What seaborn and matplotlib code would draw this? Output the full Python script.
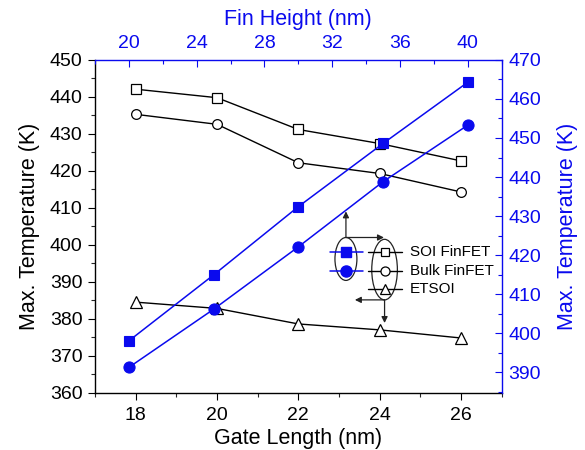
import matplotlib
matplotlib.use("Agg")
import matplotlib.pyplot as plt
import seaborn as sns
from matplotlib.patches import Ellipse
from matplotlib.ticker import MultipleLocator

# Gate-length sweep (bottom / left axes)
gate_length = [18, 20, 22, 24, 26]
soi_vs_gate = [442.1, 439.8, 431.2, 427.4, 422.7]
bulk_vs_gate = [435.3, 432.6, 422.2, 419.3, 414.3]
etsoi_vs_gate = [384.5, 382.8, 378.6, 377.0, 374.8]

# Fin-height sweep (top / right axes)
fin_height = [20, 25, 30, 35, 40]
soi_vs_fin = [398.0, 414.9, 432.4, 448.6, 464.3]
bulk_vs_fin = [391.2, 406.1, 422.1, 438.8, 453.3]

gate_ticks = [18, 20, 22, 24, 26]
fin_ticks = [20, 24, 28, 32, 36, 40]
left_ticks = [360, 370, 380, 390, 400, 410, 420, 430, 440, 450]
right_ticks = [390, 400, 410, 420, 430, 440, 450, 460, 470]

legend_labels = ["SOI FinFET", "Bulk FinFET", "ETSOI"]

sns.set_theme(style="white")
plt.rcParams["font.family"] = ["Liberation Sans", "DejaVu Sans"]

BLUE = "#0a0aee"
fig = plt.figure(figsize=(5.85, 4.5), dpi=100)
rect = [0.1624, 0.1273, 0.6952, 0.7394]
ax = fig.add_axes(rect)
axf = fig.add_axes(rect, label="fin")
axf.set_facecolor("none")

# black series: gate length vs left temperature axis
common = dict(linewidth=1.0, markeredgewidth=0.9, markeredgecolor="black",
              markerfacecolor="white", color="black", sort=False)
sns.lineplot(x=gate_length, y=soi_vs_gate, ax=ax, marker="s", markersize=6.5, **common)
sns.lineplot(x=gate_length, y=bulk_vs_gate, ax=ax, marker="o", markersize=7, **common)
sns.lineplot(x=gate_length, y=etsoi_vs_gate, ax=ax, marker="^", markersize=8, **common)

# blue series: fin height vs right temperature axis
bcommon = dict(linewidth=1.1, markeredgewidth=0.8, markeredgecolor=BLUE,
               markerfacecolor=BLUE, color=BLUE, sort=False)
sns.lineplot(x=fin_height, y=soi_vs_fin, ax=axf, marker="s", markersize=7, **bcommon)
sns.lineplot(x=fin_height, y=bulk_vs_fin, ax=axf, marker="o", markersize=8, **bcommon)

# bottom / left axes
ax.set_xlim(17, 27)
ax.set_ylim(360, 450)
ax.set_xticks(gate_ticks)
ax.set_yticks(left_ticks)
ax.xaxis.set_minor_locator(MultipleLocator(1))
ax.yaxis.set_minor_locator(MultipleLocator(5))
ax.tick_params(axis="both", which="major", direction="out", length=5, width=0.8,
               labelsize=14, colors="black", pad=4, bottom=True, left=True)
ax.tick_params(axis="both", which="minor", direction="out", length=3, width=0.8,
               bottom=True, left=True)
ax.tick_params(axis="x", which="major", pad=5)
ax.set_xlabel("Gate Length (nm)", fontsize=15.5, color="black", labelpad=3)
ax.set_ylabel("Max. Temperature (K)", fontsize=15.5, color="black", labelpad=7)
for side in ("top", "right"):
    ax.spines[side].set_visible(False)
for side in ("left", "bottom"):
    ax.spines[side].set_color("black")
    ax.spines[side].set_linewidth(1.0)

# top / right axes
axf.set_xlim(18, 42)
axf.set_ylim(384.7, 470)
axf.set_xticks(fin_ticks)
axf.set_yticks(right_ticks)
axf.xaxis.set_minor_locator(MultipleLocator(2))
axf.yaxis.set_minor_locator(MultipleLocator(5))
axf.xaxis.tick_top()
axf.yaxis.tick_right()
axf.xaxis.set_label_position("top")
axf.yaxis.set_label_position("right")
axf.tick_params(axis="both", which="major", direction="in", length=5, width=0.8,
                labelsize=14, colors=BLUE, top=True, right=True, bottom=False, left=False)
axf.tick_params(axis="both", which="minor", direction="in", length=3, width=0.8,
                colors=BLUE, top=True, right=True, bottom=False, left=False)
axf.tick_params(axis="x", which="major", pad=6)
axf.tick_params(axis="y", which="major", pad=5)
axf.set_xlabel("Fin Height (nm)", fontsize=15.5, color=BLUE, labelpad=7)
axf.set_ylabel("Max. Temperature (K)", fontsize=15.5, color=BLUE, labelpad=11)
for side in ("left", "bottom"):
    axf.spines[side].set_visible(False)
for side in ("top", "right"):
    axf.spines[side].set_visible(True)
    axf.spines[side].set_color(BLUE)
    axf.spines[side].set_linewidth(1.0)

# custom legend: blue samples (fin axes), black samples (gate axes)
T = axf.transAxes
row_y = [0.4238, 0.3667, 0.3108]
for y, mk, ms in zip(row_y[:2], ["s", "o"], [7, 8]):
    axf.plot([0.578, 0.658], [y, y], transform=T, color=BLUE, lw=1.1, clip_on=False)
    axf.plot([0.617], [y], transform=T, marker=mk, ms=ms, color=BLUE,
             mec=BLUE, clip_on=False)
for y, mk, ms in zip(row_y, ["s", "o", "^"], [6, 6.5, 7.5]):
    axf.plot([0.6705, 0.7556], [y, y], transform=T, color="black", lw=1.0, clip_on=False)
    axf.plot([0.712], [y], transform=T, marker=mk, ms=ms, mfc="white",
             mec="black", mew=0.9, clip_on=False)
for y, lab in zip(row_y, legend_labels):
    axf.text(0.7745, y, lab, transform=T, fontsize=11, color="black",
             va="center", ha="left")

axf.add_patch(Ellipse((0.617, 0.402), 0.054, 0.129, transform=T, fill=False,
                      edgecolor="#222222", lw=0.9))
axf.add_patch(Ellipse((0.712, 0.370), 0.063, 0.182, transform=T, fill=False,
                      edgecolor="#222222", lw=0.9))

arrow = dict(arrowstyle="-|>", color="#222222", lw=0.9, mutation_scale=9,
             shrinkA=0, shrinkB=0)
axf.annotate("", xy=(0.617, 0.545), xytext=(0.617, 0.4665), xycoords=T,
             textcoords=T, arrowprops=arrow)
axf.annotate("", xy=(0.7105, 0.4665), xytext=(0.617, 0.4665), xycoords=T,
             textcoords=T, arrowprops=arrow)
axf.annotate("", xy=(0.639, 0.279), xytext=(0.712, 0.279), xycoords=T,
             textcoords=T, arrowprops=arrow)
axf.annotate("", xy=(0.712, 0.2095), xytext=(0.712, 0.279), xycoords=T,
             textcoords=T, arrowprops=arrow)

fig.savefig("out.png", dpi=100)
